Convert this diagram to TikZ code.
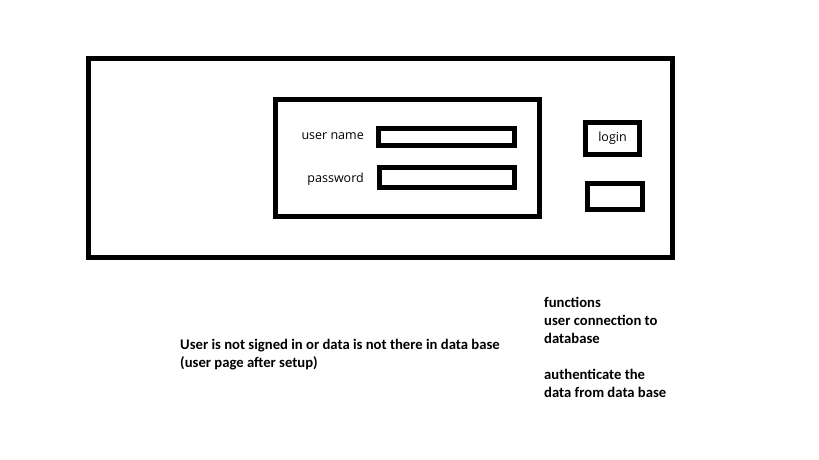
\documentclass[tikz,border=0pt]{standalone}
\usepackage{fontspec}
\setmainfont{Carlito}
\newfontfamily\uifont{Open Sans}
\begin{document}
\begin{tikzpicture}[x=1pt,y=-1pt,
  frame/.style={draw=black,line width=5pt},
  uilabel/.style={font=\uifont\fontsize{12.5}{15}\selectfont,inner sep=0pt},
  note/.style={font=\bfseries\fontsize{14.67}{18}\selectfont,inner sep=0pt,anchor=base west}]
\useasboundingbox (0,0) rectangle (819,460);
\fill[white] (0,0) rectangle (819,460);
% outer window
\draw[frame] (88.5,58.5) rectangle (672.5,257.5);
% inner form
\draw[frame] (275.5,99.5) rectangle (539.5,216.5);
% fields
\draw[frame] (378.5,128.5) rectangle (514.5,145.5);
\draw[frame] (379.5,167.5) rectangle (514.5,187.5);
\node[uilabel,anchor=east] (uname) at (364,136) {user name};
\node[uilabel,anchor=east] (pword) at (364,179) {password};
% buttons
\draw[frame] (585.5,122.5) rectangle (639.5,154.5);
\node[uilabel] (login) at (612.5,138) {login};
\draw[frame] (587.5,183.5) rectangle (642.5,209.5);
% notes
\node[note] (n1) at (180,349) {User is not signed in or data is not there in data base};
\node[note] (n2) at (180,367) {(user page after setup)};
\node[note] (f1) at (544,307) {functions};
\node[note] (f2) at (544,325) {user connection to};
\node[note] (f3) at (544,343) {database};
\node[note] (f4) at (544,379) {authenticate the};
\node[note] (f5) at (544,397) {data from data base};
\end{tikzpicture}
\end{document}
